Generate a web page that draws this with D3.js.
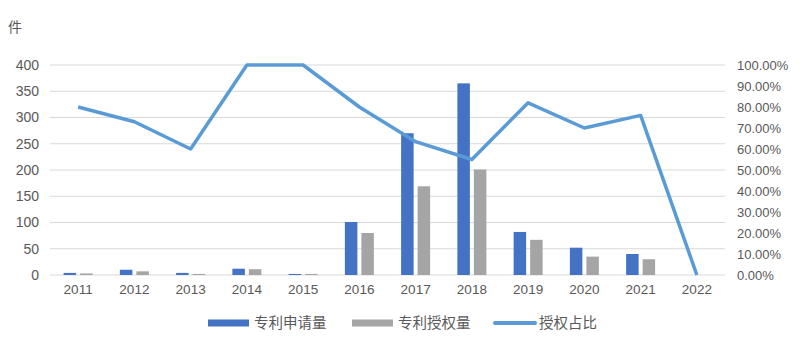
<!DOCTYPE html>
<html>
<head>
<meta charset="utf-8">
<script src="https://cdn.jsdelivr.net/npm/d3@7"></script>
<style>
  body { margin: 0; background: #fff; }
  text { font-family: "Noto Sans CJK SC", "Liberation Sans", sans-serif; fill: #595959; }
</style>
</head>
<body>
<svg id="chart" width="800" height="351"></svg>
<script>
var years = ["2011", "2012", "2013", "2014", "2015", "2016", "2017", "2018", "2019", "2020", "2021", "2022"];
var applied = [4, 10, 4, 12, 2, 101, 270, 365, 82, 52, 40, 0];
var granted = [3, 7, 2, 11, 2, 80, 169, 201, 67, 35, 30, 0];
var ratio = [0.80, 0.73, 0.60, 1.00, 1.00, 0.80, 0.635, 0.55, 0.82, 0.70, 0.76, 0];
var leftTicks = [0, 50, 100, 150, 200, 250, 300, 350, 400];
var rightTicks = [0, 0.1, 0.2, 0.3, 0.4, 0.5, 0.6, 0.7, 0.8, 0.9, 1.0];
var seriesNames = ["专利申请量", "专利授权量", "授权占比"];

var margin = { top: 65, right: 75, bottom: 76, left: 50 },
  width = 800 - margin.left - margin.right,
  height = 351 - margin.top - margin.bottom;

var svg = d3.select("#chart");
var canvas = svg.append("g")
  .attr("transform", "translate(" + margin.left + "," + margin.top + ")");

var xScale = d3.scaleBand().domain(years).range([0, width]);
var yLeft = d3.scaleLinear().domain([0, 400]).range([height, 0]);
var yRight = d3.scaleLinear().domain([0, 1]).range([height, 0]);

// gridlines
canvas.selectAll(".grid")
  .data(leftTicks)
  .enter().append("line")
  .attr("x1", 0)
  .attr("x2", width)
  .attr("y1", function(d) { return yLeft(d); })
  .attr("y2", function(d) { return yLeft(d); })
  .style("stroke", "#d9d9d9")
  .style("stroke-width", 1);

// left axis
var leftAxis = canvas.append("g")
  .call(d3.axisLeft(yLeft).tickValues(leftTicks).tickSize(0).tickPadding(11));
leftAxis.select(".domain").remove();
leftAxis.selectAll("text").style("font-size", "14px").style("font-family", "Liberation Sans, sans-serif").style("fill", "#595959");

// right axis
var rightAxis = canvas.append("g")
  .attr("transform", "translate(" + width + ",0)")
  .call(d3.axisRight(yRight).tickValues(rightTicks).tickSize(0).tickPadding(12)
    .tickFormat(function(d) { return (d * 100).toFixed(2) + "%"; }));
rightAxis.select(".domain").remove();
rightAxis.selectAll("text").style("font-size", "13px").style("font-family", "Liberation Sans, sans-serif").style("fill", "#595959");

// bottom axis
var bottomAxis = canvas.append("g")
  .attr("transform", "translate(0," + height + ")")
  .call(d3.axisBottom(xScale).tickSize(0).tickPadding(9));
bottomAxis.select(".domain").remove();
bottomAxis.selectAll("text").style("font-size", "13.5px").style("font-family", "Liberation Sans, sans-serif").style("fill", "#595959");

// bars
var barW = 12.5, gap = 4;
var barData = years.map(function(y, i) { return { year: y, a: applied[i], g: granted[i] }; });

canvas.selectAll(".barA")
  .data(barData)
  .enter().append("rect")
  .attr("class", "barA")
  .attr("x", function(d) { return xScale(d.year) + xScale.bandwidth() / 2 - gap / 2 - barW; })
  .attr("y", function(d) { return yLeft(d.a); })
  .attr("width", barW)
  .attr("height", function(d) { return height - yLeft(d.a); })
  .style("fill", "#4472c4");

canvas.selectAll(".barG")
  .data(barData)
  .enter().append("rect")
  .attr("class", "barG")
  .attr("x", function(d) { return xScale(d.year) + xScale.bandwidth() / 2 + gap / 2; })
  .attr("y", function(d) { return yLeft(d.g); })
  .attr("width", barW)
  .attr("height", function(d) { return height - yLeft(d.g); })
  .style("fill", "#a5a5a5");

// ratio line
var line = d3.line()
  .x(function(d, i) { return xScale(years[i]) + xScale.bandwidth() / 2; })
  .y(function(d) { return yRight(d); });

canvas.append("path")
  .datum(ratio)
  .attr("d", line)
  .style("fill", "none")
  .style("stroke", "#5b9bd5")
  .style("stroke-width", 3.5)
  .style("stroke-linejoin", "round");

// unit label
svg.append("text")
  .attr("x", 8)
  .attr("y", 32)
  .style("font-size", "14px")
  .text("件");

// legend
var legendX = [208, 352, 493];
var legendColors = ["#4472c4", "#a5a5a5", "#5b9bd5"];
var legend = svg.selectAll(".legend")
  .data(seriesNames)
  .enter().append("g")
  .attr("class", "legend")
  .attr("transform", function(d, i) { return "translate(" + legendX[i] + ",323)"; });

legend.append("rect")
  .attr("x", 0)
  .attr("y", function(d, i) { return i === 2 ? -2 : -3.5; })
  .attr("width", function(d, i) { return i === 2 ? 44 : 41; })
  .attr("height", function(d, i) { return i === 2 ? 4 : 7; })
  .attr("rx", function(d, i) { return i === 2 ? 2 : 0; })
  .style("fill", function(d, i) { return legendColors[i]; });

legend.append("text")
  .attr("x", 46)
  .attr("y", 0)
  .attr("dy", "0.35em")
  .style("font-size", "14.5px")
  .text(function(d) { return d; });
</script>
</body>
</html>
